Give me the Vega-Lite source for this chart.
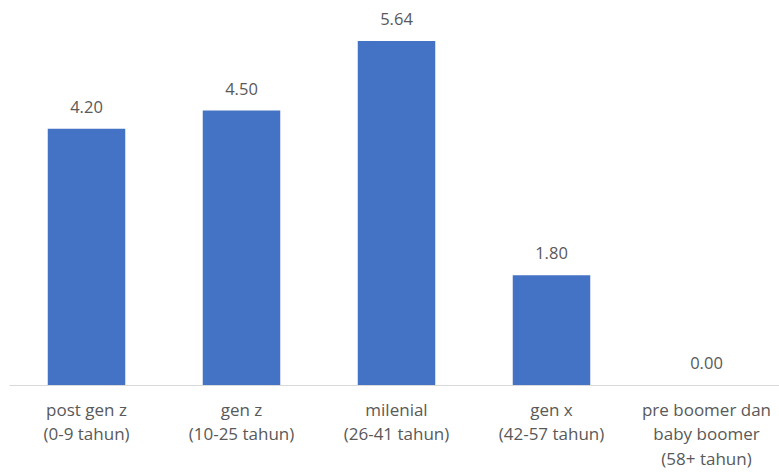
{
  "$schema": "https://vega.github.io/schema/vega-lite/v6.json",
  "autosize": "none",
  "padding": {"left": 9, "top": 19, "right": 0, "bottom": 88},
  "width": 775,
  "height": 366,
  "background": "white",
  "config": {"view": {"stroke": null}, "font": "Open Sans"},
  "data": {"values": [
    {"kategori": "post gen z|(0-9 tahun)", "nilai": 4.20},
    {"kategori": "gen z|(10-25 tahun)", "nilai": 4.50},
    {"kategori": "milenial|(26-41 tahun)", "nilai": 5.64},
    {"kategori": "gen x|(42-57 tahun)", "nilai": 1.80},
    {"kategori": "pre boomer dan|baby boomer|(58+ tahun)", "nilai": 0.00}
  ]},
  "encoding": {
    "x": {"field": "kategori", "type": "nominal", "sort": null,
      "scale": {"paddingInner": 0.5, "paddingOuter": 0.25},
      "axis": {"title": null, "labelAngle": 0, "ticks": false, "labelPadding": 17,
        "labelExpr": "split(datum.value, '|')", "labelLineHeight": 24.5,
        "labelFontSize": 17, "labelColor": "#595959", "domainColor": "#D9D9D9", "domainWidth": 1.2}},
    "y": {"field": "nilai", "type": "quantitative", "scale": {"domain": [0, 6]}, "axis": null}
  },
  "layer": [
    {"mark": {"type": "bar", "color": "#4472C4"}},
    {"mark": {"type": "text", "dy": -21, "fontSize": 16.5, "color": "#595959"},
     "encoding": {"text": {"field": "nilai", "type": "quantitative", "format": ".2f"}}}
  ]
}
